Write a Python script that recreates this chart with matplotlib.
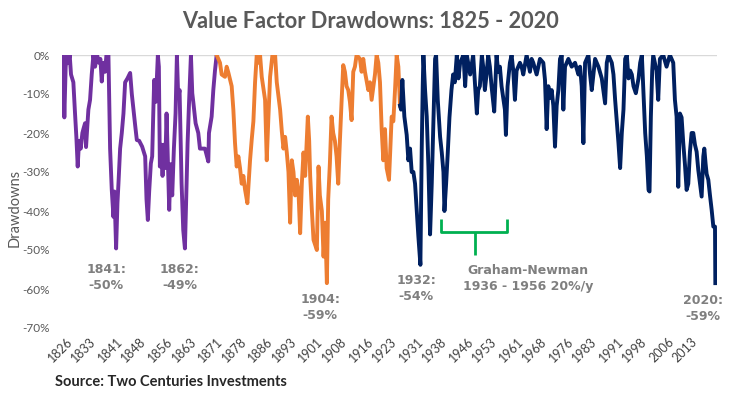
import numpy as np
import matplotlib.pyplot as plt

# drawdown series (year, drawdown %)
years_1 = [1825.0, 1825.4, 1825.8, 1826.2, 1826.6, 1827.0, 1827.4, 1828.1, 1828.6, 1829.0,
           1829.4, 1829.8, 1830.3, 1830.8, 1831.1, 1831.6, 1831.9, 1832.3, 1832.6, 1833.1,
           1833.6, 1834.1, 1834.6, 1835.2, 1835.8, 1836.2, 1836.6, 1837.0, 1837.6, 1838.0,
           1838.6, 1839.1, 1839.6, 1840.1, 1840.4, 1840.9, 1841.3, 1841.6, 1842.1, 1842.6,
           1843.1, 1843.6, 1844.3, 1845.1, 1845.6, 1846.1, 1846.6, 1847.1, 1847.8, 1848.7,
           1849.6, 1850.0, 1850.4, 1850.8, 1851.3, 1851.7, 1852.0, 1852.3, 1852.8, 1853.4,
           1853.7, 1854.0, 1854.4, 1854.8, 1855.2, 1855.6, 1856.0, 1856.3, 1856.8, 1857.2,
           1857.7, 1858.2, 1858.7, 1859.1, 1859.5, 1859.9, 1860.5, 1861.0, 1861.5, 1862.0,
           1862.3, 1862.7, 1863.3, 1863.7, 1864.0, 1864.7, 1865.5, 1866.0, 1867.5, 1868.5,
           1868.7, 1869.5, 1870.0, 1870.5, 1871.0]
dd_1 = [0, -16, -3, 0, -2, 0, -5, -7, -15, -21,
        -28.6, -22, -24, -20, -19, -17.5, -23.6, -18, -14, -11.5,
        -5, 0, -3, 0, -2, -1, -6.8, -2, -4.3, 0,
        0, -24, -34.6, -41.5, -35, -49.6, -38, -33, -24, -20,
        -15, -7, -6, -4.6, -10, -14, -18, -21.8, -22, -23.5,
        -26, -37, -42.3, -35, -27.8, -26, -15.8, -6.4, -12, 0,
        -3, -28.6, -23, -31, -23, -29, -15, -24, -39.7, -28,
        -36, -24, -15, 0, -11, -9, -32.9, -44.9, -49.6, -33,
        -22.6, -13, 0, -9.8, -12, -17.5, -20, -24, -24, -27.3,
        -20, -15.8, -9, -4, 0]

years_2 = [1871.0, 1872.0, 1872.5, 1873.5, 1874.0, 1874.5, 1875.5, 1876.0, 1876.5, 1877.0,
           1877.5, 1878.0, 1878.5, 1879.0, 1879.5, 1880.2, 1881.0, 1881.5, 1882.0, 1882.5,
           1883.0, 1883.7, 1884.0, 1884.5, 1885.5, 1886.0, 1886.5, 1887.0, 1887.7, 1888.5,
           1889.0, 1890.0, 1890.5, 1891.0, 1891.5, 1892.0, 1892.5, 1893.0, 1893.5, 1894.0,
           1894.5, 1895.0, 1895.5, 1896.0, 1896.5, 1897.0, 1897.5, 1898.3, 1898.7, 1899.0,
           1899.5, 1900.0, 1901.0, 1901.5, 1901.9, 1902.5, 1903.0, 1903.5, 1904.0, 1904.4,
           1904.9, 1905.4, 1905.9, 1906.4, 1906.9, 1907.4, 1907.9, 1908.4, 1908.9, 1909.4,
           1909.9, 1910.4, 1910.9, 1911.4, 1911.9, 1912.4, 1912.9, 1913.9, 1914.4, 1914.9,
           1915.4, 1916.4, 1916.9, 1917.4, 1918.4, 1918.9, 1919.4, 1919.9, 1920.4, 1920.9,
           1921.4, 1921.9, 1922.6, 1923.0, 1923.4, 1923.9, 1924.4, 1924.9, 1925.4, 1925.9]
dd_2 = [0, -2, -5, -5.6, -3, -4.5, -8, -14, -22.6, -28.6,
        -26, -29, -33, -31, -34.5, -38, -27, -21.7, -17, -7,
        0, -2, 0, -5.6, -11.5, -27, -15.8, -5.6, 0, 0,
        -7, -14, -19.5, -24, -21, -25, -30, -43, -27, -30,
        -36, -32, -35, -45.7, -33, -25, -31, -15.8, -22, -31,
        -39.7, -47.4, -50, -28.6, -36, -40, -51.7, -43, -58.5, -37,
        -27.8, -15.8, -20, -22, -26, -33, -22, -12, -2.6, -4.3,
        -8, -9, -12, -16.7, -4.3, -3, 0, -1, -4.3, -1,
        -4.3, -9, -7, -11.5, -5, 0, -2, -7, -19, -27,
        -19, -29, -32, -24, -15.8, -17, -9, 0, -3, -13]

years_3 = [1925.9, 1926.2, 1926.6, 1927.2, 1927.9, 1928.4, 1928.9, 1929.4, 1929.9, 1930.4,
           1930.9, 1931.4, 1932.0, 1932.4, 1932.7, 1932.9, 1933.4, 1933.9, 1934.4, 1934.9,
           1935.4, 1935.9, 1936.4, 1936.7, 1937.2, 1937.9, 1938.4, 1938.9, 1939.2, 1939.7,
           1940.2, 1940.7, 1941.3, 1941.8, 1942.3, 1942.9, 1943.4, 1943.9, 1944.9, 1945.4,
           1945.9, 1946.9, 1947.8, 1948.4, 1948.9, 1949.3, 1949.8, 1950.4, 1950.8, 1951.3,
           1951.8, 1952.3, 1952.8, 1953.3, 1954.1, 1954.5, 1954.8, 1955.3, 1955.8, 1956.3,
           1956.8, 1957.3, 1957.6, 1958.1, 1958.8, 1959.3, 1959.8, 1960.3, 1960.8, 1961.8,
           1962.3, 1962.8, 1963.8, 1964.8, 1965.3, 1965.8, 1966.8, 1967.8, 1968.8, 1969.3,
           1969.8, 1970.3, 1970.8, 1971.3, 1971.8, 1972.3, 1972.8, 1973.3, 1973.8, 1974.3,
           1974.8, 1975.3, 1976.3, 1977.3, 1978.3, 1979.3, 1979.8, 1980.3, 1980.8, 1981.3,
           1982.3, 1982.8, 1983.3, 1984.3, 1985.3, 1986.3, 1987.3, 1987.8, 1988.3, 1989.3,
           1989.8, 1990.3, 1990.8, 1991.3, 1991.8, 1992.3, 1992.8, 1993.3, 1993.8, 1994.3,
           1994.8, 1995.3, 1995.8, 1996.5, 1997.3, 1997.8, 1998.3, 1998.8, 1999.3, 1999.8,
           2000.3, 2000.6, 2001.0, 2001.4, 2001.7, 2002.7, 2003.2, 2003.7, 2004.7, 2005.7,
           2006.7, 2007.7, 2008.2, 2008.7, 2009.2, 2009.7, 2010.2, 2010.7, 2011.2, 2011.7,
           2012.2, 2012.7, 2013.2, 2013.7, 2014.2, 2014.7, 2015.2, 2015.7, 2016.2, 2016.7,
           2017.0, 2017.4, 2017.7, 2018.2, 2018.7, 2019.2, 2019.7, 2020.2, 2020.3]
dd_3 = [-13, -14, -6.4, -15.8, -20.5, -27, -24, -30, -30, -33,
        -39.7, -46.6, -53.8, -24, -8, 0, -9, -15.8, -28.6, -46,
        -33, -17.5, -1, 0, -11.5, -21, -25, -30, -40, -33,
        -25, -16, -9, -5, -7, 0, -6, -2, 0, -8,
        0, -5, 0, -8, -15, -9, -8, 0, -3, -9,
        -5, 0, -3, -8, -14.5, -6, 0, -4.3, -3, -8,
        -11, -14, -20.5, -8, -2, 0, -4, -11.5, -4, -2,
        -3, -5, 0, -4.3, -1, -2, -5, -1, -2, -6.4,
        -19, -8, -11, -9, -13, -23.5, -13, -9, -1, 0,
        -14, -3, -1, -3, -2, -5, -3, -8, -22.6, -2,
        0, -5, -9, -1, -3, -6, -12.4, -2, 0, -2,
        -5, -11.5, -17, -22.6, -29, -20, -14, -1, 0, -6,
        -4, -5, -8, -9.8, -6, -2, 0, -10, -20, -26,
        -34.6, -35, -15.8, -4, 0, -4, -11.5, -1, 0, -3,
        0, -2, -11.5, -15.8, -33.8, -15, -16, -22.6, -28, -34.6,
        -33, -24.8, -20, -20, -23, -24.8, -29.5, -33, -36.3, -26,
        -24, -28, -30.5, -32, -36, -39.7, -44, -44, -58.5]

tick_years = [1826, 1833, 1841, 1848, 1856, 1863, 1871, 1878, 1886, 1893, 1901, 1908, 1916,
              1923, 1931, 1938, 1946, 1953, 1961, 1968, 1976, 1983, 1991, 1998, 2006, 2013]
y_ticks = [0, -10, -20, -30, -40, -50, -60, -70]

plt.rcParams['font.family'] = ['Lato', 'DejaVu Sans']

fig = plt.figure(figsize=(7.4, 3.97), dpi=100)
ax = fig.add_axes([62 / 740, 1 - 328 / 397, 655 / 740, 273 / 397])

ax.axhline(0, color='#d9d9d9', lw=1, zorder=1)
ax.plot(years_1, dd_1, color='#7030A0', lw=2.8, solid_joinstyle='round', zorder=3)
ax.plot(years_2, dd_2, color='#ED7D31', lw=2.8, solid_joinstyle='round', zorder=3)
ax.plot(years_3, dd_3, color='#002060', lw=2.8, solid_joinstyle='round', zorder=3)

# Graham-Newman brace
green = '#00B050'
ax.plot([1938.2, 1938.2, 1957.9, 1957.9], [-42, -45.4, -45.4, -42], color=green, lw=2,
        solid_joinstyle='round', solid_capstyle='butt')
ax.plot([1948.4, 1948.4], [-45.4, -51.3], color=green, lw=2, solid_capstyle='butt')

ax.set_xlim(1824.7, 2020.8)
ax.set_ylim(-70, 0)
ax.set_yticks(y_ticks)
ax.set_yticklabels([f'{v}%' for v in y_ticks])
ax.set_xticks(tick_years)
ax.set_xticklabels([str(t) for t in tick_years], rotation=45, ha='right',
                   rotation_mode='anchor')
ax.tick_params(axis='y', length=0, pad=9, labelsize=8.5, labelcolor='#595959')
ax.tick_params(axis='x', length=0, pad=5, labelsize=9, labelcolor='#404040')
for s in ax.spines.values():
    s.set_visible(False)

fig.text(15 / 740, 1 - 208 / 397, 'Drawdowns', rotation=90, ha='center', va='center',
         fontsize=10.5, color='#595959')

notes = [(1837.9, -57.0, '1841:\n-50%'), (1860.0, -57.0, '1862:\n-49%'),
         (1902.0, -64.7, '1904:\n-59%'), (1930.7, -60.0, '1932:\n-54%'),
         (1964.2, -57.4, 'Graham-Newman\n1936 - 1956 20%/y'), (2016.6, -65.0, '2020:\n-59%')]
for x, y, t in notes:
    ax.text(x, y, t, ha='center', va='center', fontsize=9, fontweight='bold',
            color='#7f7f7f', linespacing=1.3, family='DejaVu Sans')

fig.text(0.5, 1 - 22 / 397, 'Value Factor Drawdowns: 1825 - 2020', ha='center', va='center',
         fontsize=15.7, fontweight='bold', color='#595959')
fig.text(55 / 740, 1 - 382 / 397, 'Source: Two Centuries Investments', ha='left',
         va='center', fontsize=10.5, fontweight='bold', color='#262626')

fig.savefig('out.png', dpi=100)
